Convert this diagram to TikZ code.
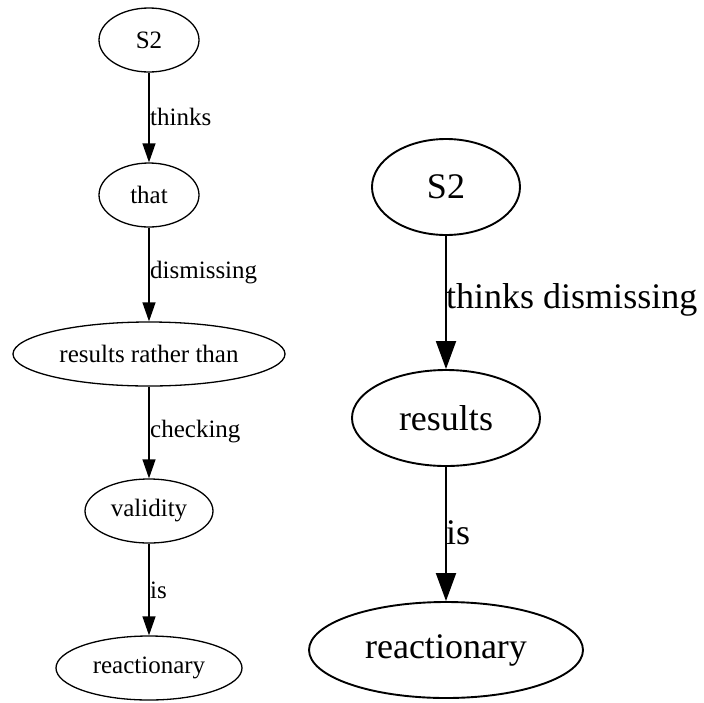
\documentclass[tikz,border=0pt]{standalone}
\usepackage{fontspec}
\setmainfont{Liberation Serif}
\newfontfamily\timesface{Liberation Serif}
\usetikzlibrary{shapes.geometric,arrows.meta}
\begin{document}
\begin{tikzpicture}[x=1pt,y=-1pt,
  smallnode/.style={draw,ellipse,inner sep=0pt,line width=1.3pt,
    font=\timesface\fontsize{25}{30}\selectfont,minimum height=64pt},
  bignode/.style={draw,ellipse,inner sep=0pt,line width=1.9pt,
    font=\timesface\fontsize{36}{43}\selectfont,minimum height=96pt},
  smalledge/.style={line width=1.3pt,-{Triangle[length=19pt,width=13pt]}},
  bigedge/.style={line width=1.9pt,-{Triangle[length=28pt,width=20pt]}},
  smalllabel/.style={anchor=west,inner sep=0pt,font=\timesface\fontsize{25}{30}\selectfont},
  biglabel/.style={anchor=west,inner sep=0pt,font=\timesface\fontsize{36}{43}\selectfont}]
\useasboundingbox (0,0) rectangle (704,702);

% left chain
\node[smallnode,minimum width=100pt] (la) at (149,40) {S2};
\node[smallnode,minimum width=100pt] (lb) at (149,195) {that};
\node[smallnode,minimum width=272pt] (lc) at (149,354) {results rather than};
\node[smallnode,minimum width=128pt] (ld) at (149,511) {validity};
\node[smallnode,minimum width=186pt] (le) at (149,668) {reactionary};

\draw[smalledge] (la) -- (lb);
\draw[smalledge] (lb) -- (lc);
\draw[smalledge] (lc) -- (ld);
\draw[smalledge] (ld) -- (le);

\node[smalllabel] (lt1) at (150,117) {thinks};
\node[smalllabel] (lt2) at (150,273) {dismissing};
\node[smalllabel] (lt3) at (150,432) {checking};
\node[smalllabel] (lt4) at (150,590) {is};

% right chain
\node[bignode,minimum width=148pt] (ra) at (446,187) {S2};
\node[bignode,minimum width=188pt] (rb) at (446,418) {results};
\node[bignode,minimum width=274pt] (rc) at (446,650) {reactionary};

\draw[bigedge] (ra) -- (rb);
\draw[bigedge] (rb) -- (rc);

\node[biglabel] (rt1) at (446,300) {thinks dismissing};
\node[biglabel] (rt2) at (446,533) {is};
\end{tikzpicture}
\end{document}
